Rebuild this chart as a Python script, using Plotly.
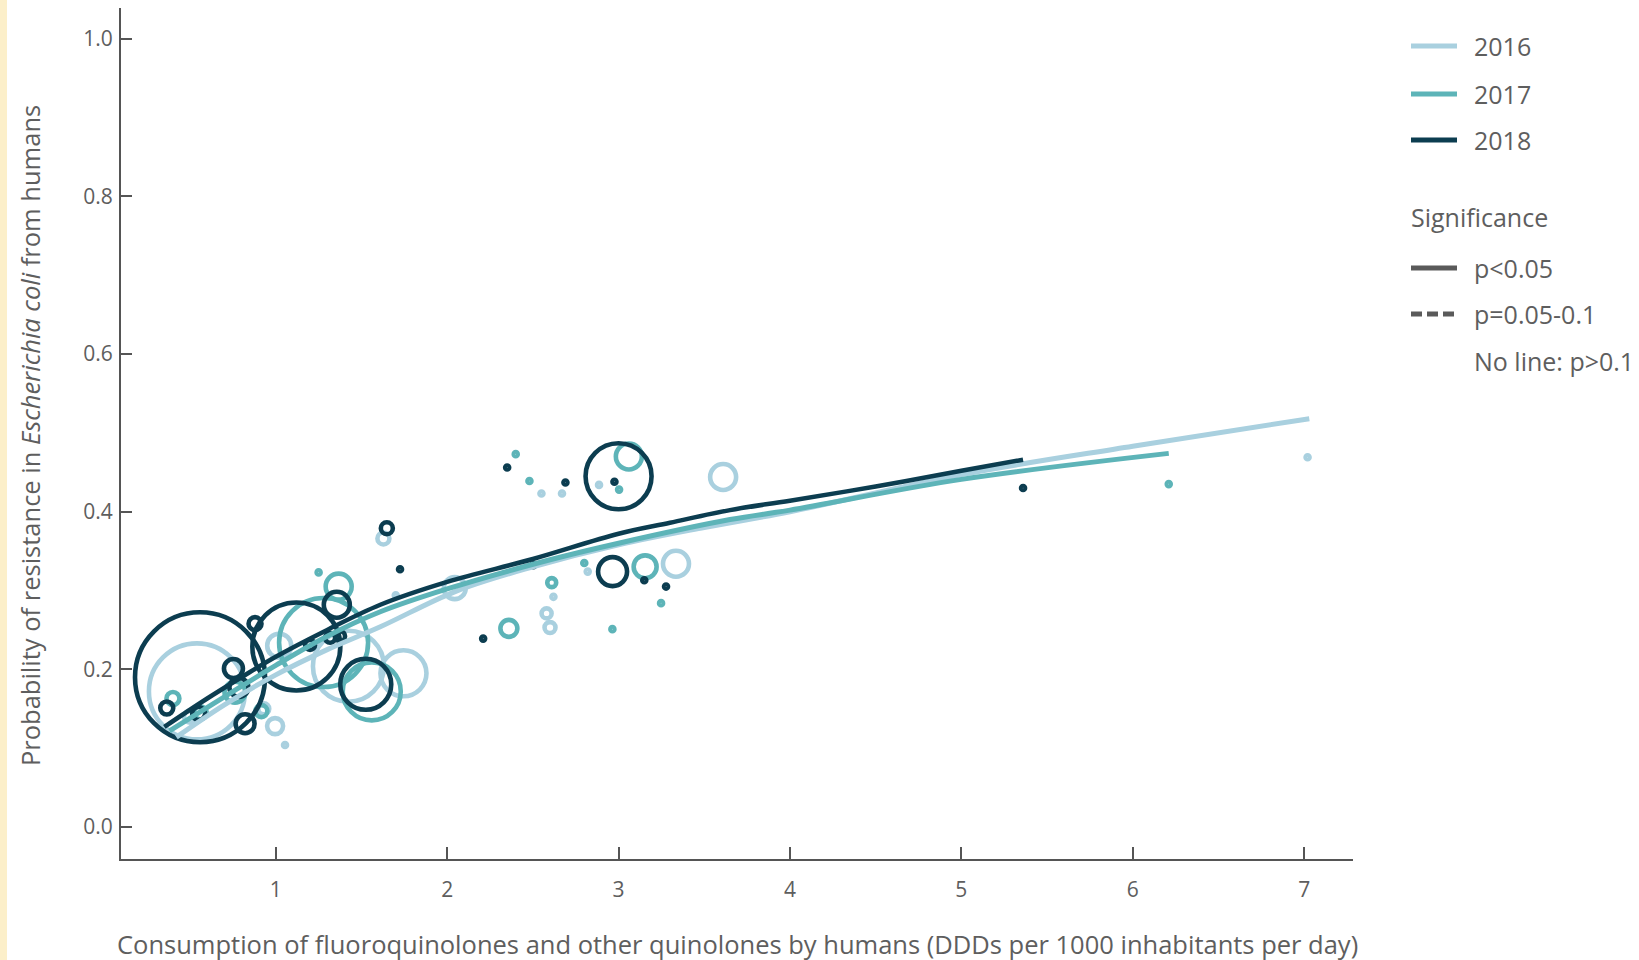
import plotly.graph_objects as go

# ---------------- data ----------------
years = ["2016", "2017", "2018"]
year_colors = {"2016": "#a9d0df", "2017": "#5db4b8", "2018": "#0c3d50"}

# bubbles (x = consumption, y = probability of resistance, n = isolates)
x_2016 = [0.54, 1.424, 1.745, 1.02, 0.996, 1.628, 2.044, 2.58, 2.60, 3.335, 3.61, 0.50, 0.93,
          1.054, 1.70, 2.55, 2.67, 2.886, 2.62, 2.82, 7.02]
y_2016 = [0.172, 0.204, 0.195, 0.23, 0.128, 0.366, 0.303, 0.271, 0.253, 0.334, 0.444, 0.14, 0.15,
          0.104, 0.294, 0.423, 0.423, 0.434, 0.292, 0.324, 0.469]
n_2016 = [4608, 2520, 1058, 288, 128, 72, 242, 50, 60, 338, 338, 72, 60,
          8, 8, 8, 8, 8, 8, 8, 8]

x_2017 = [1.279, 1.56, 1.367, 0.40, 0.56, 0.762, 0.916, 3.06, 3.155, 2.61, 2.36,
          1.25, 2.40, 2.48, 3.003, 2.80, 2.964, 3.248, 6.21]
y_2017 = [0.234, 0.172, 0.305, 0.163, 0.145, 0.171, 0.147, 0.470, 0.330, 0.310, 0.252,
          0.323, 0.473, 0.439, 0.428, 0.335, 0.251, 0.284, 0.435]
n_2017 = [3960, 1682, 338, 84, 84, 220, 72, 338, 264, 40, 144,
          8, 8, 8, 8, 8, 8, 8, 8]

x_2018 = [0.558, 1.12, 1.525, 3.0, 2.965, 1.356, 0.364, 0.55, 0.753, 0.785, 0.821, 0.879, 1.648,
          1.20, 1.317, 1.375,
          1.725, 2.35, 2.69, 2.976, 2.21, 2.503, 3.15, 3.277, 5.36]
y_2018 = [0.190, 0.229, 0.181, 0.445, 0.324, 0.282, 0.151, 0.144, 0.201, 0.177, 0.131, 0.258, 0.379,
          0.231, 0.240, 0.242,
          0.327, 0.456, 0.437, 0.438, 0.239, 0.332, 0.313, 0.305, 0.430]
n_2018 = [8450, 3872, 1300, 2178, 420, 338, 84, 84, 180, 180, 180, 84, 72,
          50, 50, 50,
          8, 8, 8, 8, 8, 8, 8, 8, 8]

# fitted curves
fit_x_2016 = [0.42, 0.7, 1.0, 1.3, 1.61, 2.05, 2.5, 3.0, 3.5, 4.0, 5.0, 6.0, 7.03]
fit_y_2016 = [0.114, 0.155, 0.193, 0.225, 0.254, 0.299, 0.330, 0.358, 0.380, 0.400, 0.447, 0.483, 0.518]
fit_x_2017 = [0.38, 0.7, 1.0, 1.3, 1.61, 2.0, 2.6, 3.0, 3.65, 4.0, 5.0, 6.21]
fit_y_2017 = [0.122, 0.165, 0.205, 0.242, 0.273, 0.302, 0.339, 0.360, 0.390, 0.402, 0.441, 0.474]
fit_x_2018 = [0.35, 0.6, 0.8, 1.0, 1.3, 1.61, 2.0, 2.5, 3.0, 3.3, 3.65, 4.0, 4.5, 5.0, 5.36]
fit_y_2018 = [0.127, 0.163, 0.19, 0.216, 0.25, 0.282, 0.311, 0.340, 0.372, 0.386, 0.402, 0.414, 0.432, 0.452, 0.466]

x_ticks = [1, 2, 3, 4, 5, 6, 7]
y_ticks = [0.0, 0.2, 0.4, 0.6, 0.8, 1.0]
y_tick_labels = ["0.0", "0.2", "0.4", "0.6", "0.8", "1.0"]

legend_years = ["2016", "2017", "2018"]
sig_labels = ["p&lt;0.05", "p=0.05-0.1", "No line: p&gt;0.1"]

# ---------------- figure ----------------
W, H = 1639, 960
L, R, T, B = 121, 1353, 8, 859
TXT = "#5e5e5e"
FONT = "Open Sans"

bubbles = {"2016": (x_2016, y_2016, n_2016),
           "2017": (x_2017, y_2017, n_2017),
           "2018": (x_2018, y_2018, n_2018)}
fits = {"2016": (fit_x_2016, fit_y_2016, 5),
        "2017": (fit_x_2017, fit_y_2017, 5),
        "2018": (fit_x_2018, fit_y_2018, 4.5)}

fig = go.Figure()
for yr in years:
    bx, by, bn = bubbles[yr]
    fig.add_trace(go.Scatter(
        x=bx, y=by, mode="markers", showlegend=False, hoverinfo="skip", cliponaxis=False,
        marker=dict(symbol="circle-open", size=bn, sizemode="area", sizeref=1.0, opacity=1,
                    color=year_colors[yr], line=dict(width=4.6, color=year_colors[yr]))))
for yr in years:
    fx, fy, lw = fits[yr]
    fig.add_trace(go.Scatter(
        x=fx, y=fy, mode="lines", showlegend=False, hoverinfo="skip",
        line=dict(color=year_colors[yr], width=lw, shape="spline", smoothing=1.0)))


def px(xp):
    return (xp - L) / (R - L)


def py(yp):
    return (B - yp) / (B - T)


shapes = []
annotations = []
# decorative left strip
shapes.append(dict(type="rect", xref="paper", yref="paper", x0=px(0), x1=px(7), y0=py(960), y1=py(0),
                   fillcolor="#fcefc9", line=dict(width=0), layer="below"))

LEGF = 25
leg_rows = [46, 94, 140]
for yr, yy in zip(legend_years, leg_rows):
    shapes.append(dict(type="line", xref="paper", yref="paper", x0=px(1411), x1=px(1457),
                       y0=py(yy), y1=py(yy), line=dict(color=year_colors[yr], width=5)))
    annotations.append(dict(xref="paper", yref="paper", x=px(1472), y=py(yy), text=yr,
                            showarrow=False, xanchor="left", yanchor="middle",
                            font=dict(family=FONT, size=LEGF, color=TXT)))
annotations.append(dict(xref="paper", yref="paper", x=px(1409), y=py(217), text="Significance",
                        showarrow=False, xanchor="left", yanchor="middle",
                        font=dict(family=FONT, size=LEGF, color=TXT)))
sig_rows = [268, 314, 361]
sig_dash = ["solid", "11px,5px", None]
for lab, yy, ds in zip(sig_labels, sig_rows, sig_dash):
    if ds is not None:
        shapes.append(dict(type="line", xref="paper", yref="paper", x0=px(1411), x1=px(1457),
                           y0=py(yy), y1=py(yy), line=dict(color="#5a5a5a", width=5, dash=ds)))
    annotations.append(dict(xref="paper", yref="paper", x=px(1472), y=py(yy), text=lab,
                            showarrow=False, xanchor="left", yanchor="middle",
                            font=dict(family=FONT, size=LEGF, color=TXT)))

annotations.append(dict(xref="paper", yref="paper", x=px(30), y=0.497, textangle=-90,
                        text="Probability of resistance in <i>Escherichia coli</i> from humans",
                        showarrow=False, xanchor="center", yanchor="middle",
                        font=dict(family=FONT, size=25.5, color=TXT)))
annotations.append(dict(xref="paper", yref="paper", x=0.5, y=py(944),
                        text="Consumption of fluoroquinolones and other quinolones by humans (DDDs per 1000 inhabitants per day)",
                        showarrow=False, xanchor="center", yanchor="middle",
                        font=dict(family=FONT, size=25.5, color=TXT)))

fig.update_layout(
    width=W, height=H,
    margin=dict(l=L, r=W - R, t=T, b=H - B, pad=0),
    paper_bgcolor="white", plot_bgcolor="white",
    shapes=shapes, annotations=annotations,
    hovermode=False,
)
fig.update_xaxes(range=[0.097, 7.285], tickvals=x_ticks, ticks="inside", ticklen=12, tickwidth=1.5,
                 tickcolor="#555", showline=True, linecolor="#555", linewidth=2, showgrid=False,
                 zeroline=False, tickfont=dict(family=FONT, size=21, color=TXT), ticklabelstandoff=11)
fig.update_yaxes(range=[-0.0406, 1.039], tickvals=y_ticks, ticktext=y_tick_labels, ticks="inside",
                 ticklen=11, tickwidth=1.5, tickcolor="#555", showline=True, linecolor="#555", linewidth=2,
                 showgrid=False, zeroline=False, tickfont=dict(family=FONT, size=21, color=TXT),
                 ticklabelstandoff=2)

fig.write_html("out.html", config={"displayModeBar": False},
               post_script="document.body.style.margin='0';")
